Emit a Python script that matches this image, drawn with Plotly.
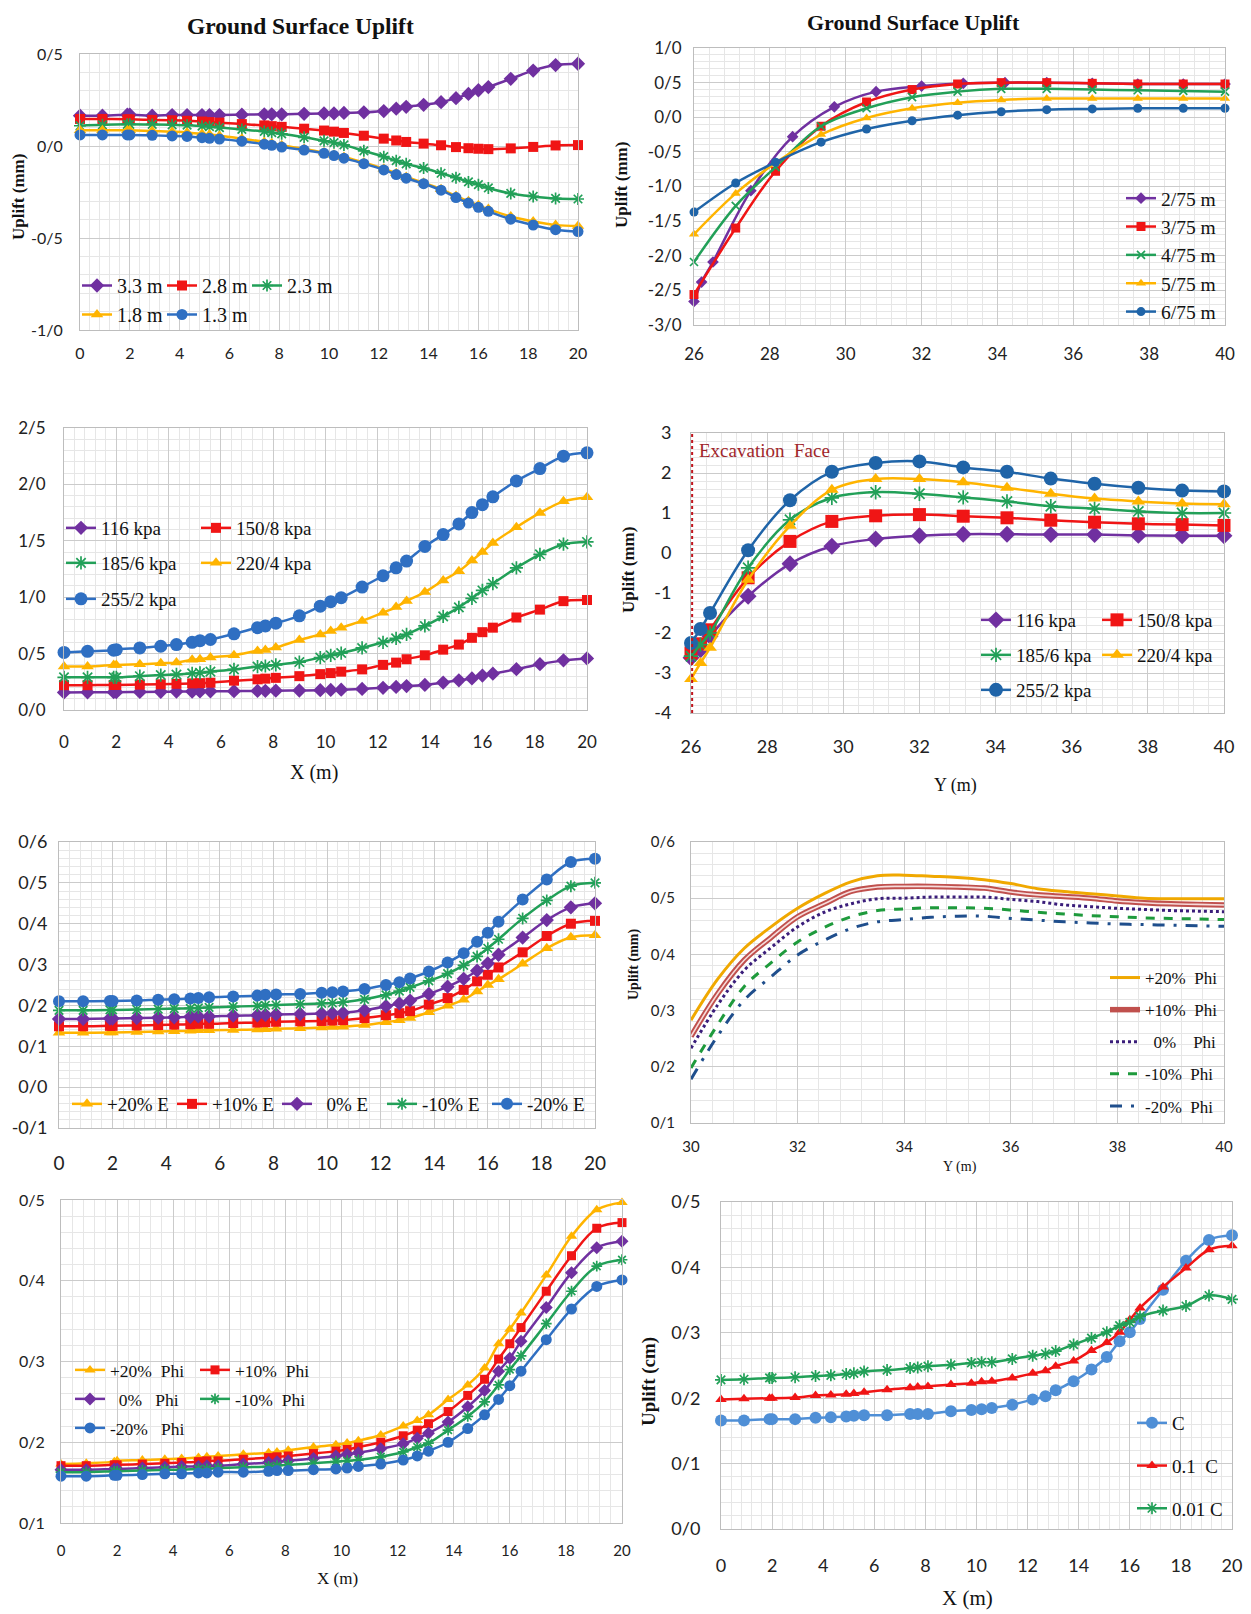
import plotly.graph_objects as go

# The page body keeps its default 8 px margin, so the figure is drawn 8 px in from the
# top-left corner of the 1251 x 1614 window; size it so it ends at the window edge.
PAGE_W, PAGE_H = 1251, 1614
BODY_MARGIN = 8
W, H = PAGE_W - BODY_MARGIN, PAGE_H - BODY_MARGIN
SERIF = "Liberation Serif"
SANS = "Lato"
TICK_COLOR = "#222222"

PURPLE = "#7030a0"
RED = "#f01515"
GREEN = "#22a058"
YELLOW = "#ffb400"
BLUE = "#2f6fc2"

# ------------------------------------------------------------------ data
X_NODES = [0, 0.9, 1.9, 2.0, 2.9, 3.7, 4.3, 4.9, 5.2, 5.6, 6.5, 7.4, 7.7, 8.1, 9.0, 9.8,
           10.2, 10.6, 11.4, 12.2, 12.7, 13.1, 13.8, 14.5, 15.1, 15.6, 16.0, 16.4, 17.3,
           18.2, 19.1, 20.0]
X_TICK_STEP = 2

# Panel 1 : uplift vs X for different depths
P1_NAMES = ["3.3 m", "2.8 m", "2.3 m", "1.8 m", "1.3 m"]
P1_33 = [0.165, 0.165, 0.17, 0.17, 0.165, 0.168, 0.168, 0.168, 0.168, 0.168, 0.17, 0.172, 0.172,
         0.172, 0.175, 0.177, 0.177, 0.18, 0.183, 0.19, 0.203, 0.213, 0.224, 0.238, 0.26, 0.283,
         0.303, 0.32, 0.365, 0.41, 0.44, 0.447]
P1_28 = [0.147, 0.147, 0.145, 0.145, 0.142, 0.14, 0.137, 0.133, 0.13, 0.127, 0.119, 0.112, 0.108,
         0.104, 0.094, 0.084, 0.078, 0.071, 0.056, 0.04, 0.03, 0.022, 0.013, 0.004, -0.006,
         -0.012, -0.015, -0.017, -0.013, -0.005, 0.003, 0.005]
P1_23 = [0.11, 0.115, 0.118, 0.118, 0.117, 0.115, 0.113, 0.108, 0.105, 0.1, 0.09, 0.079, 0.073,
         0.066, 0.047, 0.028, 0.018, 0.006, -0.026, -0.058, -0.08, -0.097, -0.12, -0.148, -0.172,
         -0.195, -0.21, -0.228, -0.258, -0.274, -0.285, -0.288]
P1_18 = [0.085, 0.085, 0.085, 0.085, 0.082, 0.078, 0.074, 0.066, 0.062, 0.056, 0.04, 0.022, 0.015,
         0.004, -0.016, -0.036, -0.048, -0.06, -0.09, -0.124, -0.148, -0.168, -0.2, -0.235, -0.272,
         -0.3, -0.322, -0.343, -0.383, -0.41, -0.43, -0.435]
P1_13 = [0.06, 0.06, 0.06, 0.06, 0.058, 0.055, 0.052, 0.045, 0.042, 0.038, 0.026, 0.01, 0.004,
         -0.006, -0.022, -0.04, -0.052, -0.066, -0.096, -0.13, -0.155, -0.175, -0.205, -0.24,
         -0.28, -0.31, -0.333, -0.355, -0.398, -0.43, -0.455, -0.465]
P1_YTICKS = [-1.0, -0.5, 0.0, 0.5]
P1_YTEXT = ["-1/0", "-0/5", "0/0", "0/5"]

# Panel 2 : uplift vs Y for different depths
P2_NAMES = ["2/75 m", "3/75 m", "4/75 m", "5/75 m", "6/75 m"]
P2_X_A = [26, 26.2, 26.5, 27.5, 28.6, 29.7, 30.8, 32.0, 33.1, 34.2, 35.3, 36.5, 37.7, 38.9, 40]
P2_275 = [-2.66, -2.38, -2.09, -1.06, -0.28, 0.15, 0.37, 0.45, 0.49, 0.5, 0.5, 0.49, 0.48, 0.48, 0.48]
P2_X = [26, 27.1, 28.15, 29.35, 30.55, 31.75, 32.95, 34.1, 35.3, 36.5, 37.7, 38.9, 40]
P2_375 = [-2.56, -1.6, -0.78, -0.13, 0.22, 0.4, 0.48, 0.5, 0.5, 0.49, 0.48, 0.48, 0.48]
P2_475 = [-2.09, -1.28, -0.72, -0.13, 0.13, 0.29, 0.37, 0.41, 0.41, 0.4, 0.39, 0.38, 0.37]
P2_575 = [-1.69, -1.1, -0.66, -0.25, -0.01, 0.13, 0.21, 0.25, 0.27, 0.27, 0.27, 0.27, 0.27]
P2_675 = [-1.37, -0.95, -0.65, -0.36, -0.17, -0.05, 0.03, 0.08, 0.11, 0.12, 0.13, 0.13, 0.13]
P2_YTICKS = [-3.0, -2.5, -2.0, -1.5, -1.0, -0.5, 0.0, 0.5, 1.0]
P2_YTEXT = ["-3/0", "-2/5", "-2/0", "-1/5", "-1/0", "-0/5", "0/0", "0/5", "1/0"]

# Panel 3 : uplift vs X for different pressures
P3_NAMES = ["116 kpa", "150/8 kpa", "185/6 kpa", "220/4 kpa", "255/2 kpa"]
P3_116 = [0.156, 0.157, 0.158, 0.158, 0.16, 0.162, 0.163, 0.164, 0.165, 0.166, 0.167, 0.169, 0.17,
          0.171, 0.173, 0.176, 0.178, 0.18, 0.187, 0.197, 0.205, 0.212, 0.222, 0.243, 0.263, 0.28,
          0.305, 0.322, 0.362, 0.406, 0.44, 0.457]
P3_150 = [0.22, 0.22, 0.222, 0.222, 0.225, 0.228, 0.232, 0.236, 0.238, 0.242, 0.26, 0.272, 0.278,
          0.285, 0.3, 0.318, 0.327, 0.34, 0.36, 0.4, 0.42, 0.45, 0.485, 0.535, 0.58, 0.64, 0.69,
          0.73, 0.82, 0.89, 0.965, 0.975]
P3_185 = [0.29, 0.29, 0.29, 0.29, 0.3, 0.31, 0.315, 0.325, 0.33, 0.34, 0.36, 0.385, 0.39, 0.4,
          0.425, 0.465, 0.485, 0.505, 0.55, 0.6, 0.635, 0.67, 0.745, 0.83, 0.91, 0.99, 1.06, 1.12,
          1.26, 1.38, 1.47, 1.49]
P3_220 = [0.386, 0.386, 0.4, 0.4, 0.406, 0.415, 0.42, 0.445, 0.45, 0.465, 0.486, 0.524, 0.533,
          0.554, 0.62, 0.67, 0.7, 0.73, 0.79, 0.863, 0.913, 0.966, 1.045, 1.149, 1.23, 1.325, 1.4,
          1.48, 1.62, 1.747, 1.85, 1.885]
P3_255 = [0.51, 0.52, 0.53, 0.535, 0.55, 0.565, 0.58, 0.6, 0.615, 0.625, 0.675, 0.73, 0.745, 0.77,
          0.835, 0.92, 0.96, 0.995, 1.09, 1.19, 1.26, 1.32, 1.45, 1.555, 1.65, 1.75, 1.82, 1.89,
          2.03, 2.14, 2.25, 2.28]
P3_YTICKS = [0.0, 0.5, 1.0, 1.5, 2.0, 2.5]
P3_YTEXT = ["0/0", "0/5", "1/0", "1/5", "2/0", "2/5"]

# Panel 4 : uplift vs Y for different pressures
P4_X = [26, 26.25, 26.5, 27.5, 28.6, 29.7, 30.85, 32.0, 33.15, 34.3, 35.45, 36.6, 37.75, 38.9, 40]
P4_116 = [-2.62, -2.42, -2.08, -1.08, -0.27, 0.17, 0.35, 0.43, 0.47, 0.47, 0.46, 0.46, 0.44, 0.43, 0.43]
P4_150 = [-2.5, -2.27, -1.92, -0.62, 0.29, 0.79, 0.93, 0.96, 0.92, 0.88, 0.82, 0.77, 0.73, 0.71, 0.69]
P4_185 = [-2.58, -2.29, -2.0, -0.37, 0.83, 1.38, 1.52, 1.48, 1.39, 1.29, 1.17, 1.11, 1.04, 1.0, 1.0]
P4_220 = [-3.15, -2.75, -2.37, -0.67, 0.68, 1.58, 1.85, 1.85, 1.77, 1.63, 1.48, 1.36, 1.29, 1.24, 1.22]
P4_255 = [-2.25, -1.9, -1.5, 0.07, 1.32, 2.03, 2.25, 2.29, 2.14, 2.03, 1.86, 1.73, 1.63, 1.56, 1.54]
P4_YTICKS = [-4, -3, -2, -1, 0, 1, 2, 3]
P4_YTEXT = ["-4", "-3", "-2", "-1", "0", "1", "2", "3"]
EXCAVATION_FACE = 26.03

# Panel 5 : uplift vs X for different E
P5_NAMES = ["+20% E", "+10% E", "\u00a0\u00a00% E", "-10% E", "-20% E"]
P5_P20 = [0.133, 0.133, 0.134, 0.134, 0.135, 0.136, 0.137, 0.138, 0.139, 0.139, 0.14, 0.141, 0.142,
          0.143, 0.144, 0.146, 0.147, 0.148, 0.152, 0.159, 0.164, 0.169, 0.183, 0.199, 0.214, 0.234,
          0.25, 0.264, 0.302, 0.34, 0.367, 0.372]
P5_P10 = [0.149, 0.149, 0.15, 0.15, 0.151, 0.152, 0.153, 0.154, 0.155, 0.155, 0.157, 0.158, 0.159,
          0.16, 0.161, 0.162, 0.163, 0.164, 0.169, 0.176, 0.181, 0.186, 0.202, 0.218, 0.238, 0.259,
          0.275, 0.293, 0.33, 0.37, 0.4, 0.407]
P5_0 = [0.167, 0.167, 0.168, 0.168, 0.169, 0.17, 0.171, 0.172, 0.173, 0.173, 0.175, 0.176, 0.177,
        0.178, 0.179, 0.18, 0.181, 0.182, 0.188, 0.198, 0.205, 0.212, 0.228, 0.246, 0.265, 0.285,
        0.303, 0.324, 0.366, 0.409, 0.44, 0.45]
P5_M10 = [0.188, 0.188, 0.189, 0.189, 0.19, 0.191, 0.192, 0.193, 0.194, 0.195, 0.197, 0.199, 0.2,
          0.201, 0.203, 0.205, 0.206, 0.208, 0.215, 0.226, 0.235, 0.244, 0.26, 0.278, 0.298, 0.32,
          0.34, 0.362, 0.413, 0.457, 0.492, 0.5]
P5_M20 = [0.21, 0.21, 0.211, 0.211, 0.212, 0.214, 0.215, 0.217, 0.218, 0.22, 0.222, 0.224, 0.226,
          0.227, 0.228, 0.231, 0.232, 0.234, 0.24, 0.25, 0.257, 0.266, 0.283, 0.305, 0.328, 0.356,
          0.378, 0.405, 0.459, 0.508, 0.551, 0.559]
P5_YTICKS = [-0.1, 0.0, 0.1, 0.2, 0.3, 0.4, 0.5, 0.6]
P5_YTEXT = ["-0/1", "0/0", "0/1", "0/2", "0/3", "0/4", "0/5", "0/6"]

# Panel 6 : uplift vs Y for different Phi
P6_NAMES = ["+20%\u00a0\u00a0Phi", "+10%\u00a0\u00a0Phi", "\u00a0\u00a00%\u00a0\u00a0\u00a0\u00a0Phi",
            "-10%\u00a0\u00a0Phi", "-20%\u00a0\u00a0Phi"]
P6_X = [30, 30.5, 31, 31.5, 32, 32.5, 33, 33.5, 34, 34.5, 35, 35.5, 36, 36.5, 37, 37.5, 38, 38.5,
        39, 39.5, 40]
P6_P20 = [0.283, 0.356, 0.411, 0.449, 0.482, 0.508, 0.529, 0.54, 0.541, 0.539, 0.537, 0.533, 0.526,
          0.517, 0.512, 0.508, 0.504, 0.5, 0.499, 0.499, 0.499]
P6_P10 = [0.254, 0.33, 0.39, 0.43, 0.467, 0.49, 0.512, 0.52, 0.521, 0.521, 0.52, 0.518, 0.511,
          0.506, 0.503, 0.5, 0.495, 0.492, 0.49, 0.489, 0.488]
P6_0 = [0.233, 0.31, 0.372, 0.412, 0.449, 0.475, 0.49, 0.499, 0.5, 0.502, 0.502, 0.502, 0.498,
        0.494, 0.488, 0.485, 0.482, 0.48, 0.478, 0.477, 0.476]
P6_M10 = [0.198, 0.275, 0.343, 0.385, 0.422, 0.448, 0.467, 0.478, 0.481, 0.483, 0.483, 0.482, 0.479,
          0.475, 0.472, 0.469, 0.467, 0.465, 0.464, 0.463, 0.462]
P6_M20 = [0.178, 0.255, 0.319, 0.36, 0.399, 0.425, 0.446, 0.458, 0.462, 0.466, 0.468, 0.468, 0.464,
          0.461, 0.458, 0.456, 0.454, 0.453, 0.452, 0.451, 0.45]
P6_YTICKS = [0.1, 0.2, 0.3, 0.4, 0.5, 0.6]
P6_YTEXT = ["0/1", "0/2", "0/3", "0/4", "0/5", "0/6"]

# Panel 7 : uplift vs X for different Phi
P7_NAMES = ["+20%\u00a0\u00a0Phi", "+10%\u00a0\u00a0Phi", "\u00a0\u00a00%\u00a0\u00a0\u00a0Phi",
            "-10%\u00a0\u00a0Phi", "-20%\u00a0\u00a0\u00a0Phi"]
P7_P20 = [0.173, 0.174, 0.176, 0.177, 0.178, 0.179, 0.18, 0.181, 0.182, 0.183, 0.185, 0.187, 0.188,
          0.19, 0.194, 0.197, 0.199, 0.202, 0.209, 0.22, 0.227, 0.234, 0.253, 0.271, 0.292, 0.322,
          0.34, 0.36, 0.407, 0.455, 0.488, 0.497]
P7_P10 = [0.171, 0.171, 0.172, 0.172, 0.173, 0.174, 0.175, 0.176, 0.177, 0.177, 0.179, 0.181, 0.182,
          0.183, 0.186, 0.189, 0.191, 0.194, 0.2, 0.208, 0.215, 0.223, 0.238, 0.258, 0.278, 0.303,
          0.322, 0.342, 0.387, 0.431, 0.465, 0.472]
P7_0 = [0.166, 0.166, 0.167, 0.167, 0.168, 0.169, 0.17, 0.17, 0.171, 0.171, 0.173, 0.175, 0.176,
        0.177, 0.18, 0.183, 0.185, 0.187, 0.192, 0.198, 0.205, 0.211, 0.225, 0.244, 0.264, 0.288,
        0.304, 0.325, 0.367, 0.41, 0.441, 0.449]
P7_M10 = [0.163, 0.163, 0.164, 0.164, 0.165, 0.166, 0.166, 0.167, 0.167, 0.168, 0.169, 0.17, 0.171,
          0.172, 0.174, 0.176, 0.177, 0.178, 0.182, 0.188, 0.194, 0.199, 0.215, 0.232, 0.25, 0.271,
          0.29, 0.307, 0.347, 0.387, 0.418, 0.426]
P7_M20 = [0.158, 0.158, 0.159, 0.159, 0.16, 0.161, 0.161, 0.162, 0.162, 0.163, 0.163, 0.164, 0.165,
          0.165, 0.166, 0.167, 0.168, 0.17, 0.173, 0.178, 0.183, 0.189, 0.2, 0.217, 0.234, 0.253,
          0.27, 0.288, 0.327, 0.365, 0.393, 0.401]
P7_YTICKS = [0.1, 0.2, 0.3, 0.4, 0.5]
P7_YTEXT = ["0/1", "0/2", "0/3", "0/4", "0/5"]

# Panel 8 : uplift vs X for different cohesion
P8_NAMES = ["C", "0.1\u00a0\u00a0C", "0.01 C"]
P8_C = [0.166, 0.166, 0.168, 0.168, 0.168, 0.17, 0.171, 0.172, 0.173, 0.174, 0.174, 0.176, 0.176,
        0.176, 0.18, 0.182, 0.183, 0.185, 0.19, 0.198, 0.203, 0.212, 0.226, 0.244, 0.263, 0.287,
        0.301, 0.321, 0.366, 0.41, 0.442, 0.449]
P8_01C = [0.198, 0.199, 0.2, 0.2, 0.201, 0.204, 0.205, 0.206, 0.207, 0.209, 0.213, 0.216, 0.217,
          0.218, 0.221, 0.223, 0.225, 0.226, 0.231, 0.238, 0.242, 0.249, 0.257, 0.273, 0.285, 0.301,
          0.32, 0.338, 0.37, 0.399, 0.427, 0.433]
P8_001C = [0.228, 0.229, 0.231, 0.231, 0.232, 0.234, 0.235, 0.237, 0.238, 0.241, 0.243, 0.246, 0.247,
           0.249, 0.251, 0.254, 0.255, 0.255, 0.26, 0.265, 0.268, 0.272, 0.282, 0.292, 0.301, 0.311,
           0.316, 0.325, 0.334, 0.341, 0.357, 0.351]
P8_YTICKS = [0.0, 0.1, 0.2, 0.3, 0.4, 0.5]
P8_YTEXT = ["0/0", "0/1", "0/2", "0/3", "0/4", "0/5"]

# ------------------------------------------------------------------ helpers
fig = go.Figure()


def fx(px):
    """window pixel x -> paper fraction"""
    return (px - BODY_MARGIN) / W


def fy(py):
    """window pixel y -> paper fraction"""
    return 1 - (py - BODY_MARGIN) / H


def style_axes(n, box, xrange, xdtick, xminor, yrange, yvals, ytext, yminor,
               fsize, xstand, ystand, xfsize=None):
    s = "" if n == 1 else str(n)
    left, top, right, bottom = box
    common = dict(showline=True, linecolor="#bdbdbd", linewidth=1, mirror=True,
                  showgrid=True, gridcolor="#cbcbcb", gridwidth=1, zeroline=False,
                  ticks="", fixedrange=True, automargin=False)
    xa = dict(common, domain=[fx(left), fx(right)], anchor="y" + s, range=xrange,
              tickmode="linear", tick0=xrange[0], dtick=xdtick,
              minor=dict(showgrid=True, gridcolor="#e6e6e6", gridwidth=1,
                         tick0=xrange[0], dtick=xminor),
              tickfont=dict(family=SANS, size=xfsize or fsize, color=TICK_COLOR),
              ticklabelstandoff=xstand)
    ya = dict(common, domain=[fy(bottom), fy(top)], anchor="x" + s, range=yrange,
              tickmode="array", tickvals=yvals, ticktext=ytext,
              minor=dict(showgrid=True, gridcolor="#e6e6e6", gridwidth=1,
                         tick0=yrange[0], dtick=yminor),
              tickfont=dict(family=SANS, size=fsize, color=TICK_COLOR),
              ticklabelstandoff=ystand)
    fig.update_layout({"xaxis" + s: xa, "yaxis" + s: ya})


def series(n, x, y, name, color, symbol, msize, legend, lw=2.5, dash="solid",
           mode="lines+markers", group=None, showlegend=True):
    s = "" if n == 1 else str(n)
    star = symbol is not None and ("asterisk" in symbol or "thin" in symbol)
    marker = dict(symbol=symbol or "circle", size=msize, color=color,
                  line=dict(width=1.7 if star else 0, color=color))
    kw = {}
    if group:
        kw["legendgroup"] = group
    fig.add_trace(go.Scatter(
        x=x, y=y, name=name, mode=mode, marker=marker,
        line=dict(color=color, width=lw, shape="spline", smoothing=1.0, dash=dash),
        xaxis="x" + s, yaxis="y" + s, legend=legend, cliponaxis=False,
        showlegend=showlegend, hoverinfo="skip", **kw))


def legend_box(left, top, size, orientation="h", entrywidth=None, gap=0, order="normal"):
    d = dict(x=fx(left), y=fy(top), xanchor="left", yanchor="top",
             orientation=orientation, bgcolor="rgba(0,0,0,0)", borderwidth=0,
             itemwidth=30, tracegroupgap=gap, traceorder=order,
             font=dict(family=SERIF, size=size, color="#111111"))
    if entrywidth is not None:
        d.update(entrywidth=entrywidth, entrywidthmode="pixels")
    return d


def label(text, x, y, size, bold=False, angle=0, color="#111111", xanchor="center"):
    fig.add_annotation(text=("<b>%s</b>" % text) if bold else text,
                       x=fx(x), y=fy(y), xref="paper", yref="paper",
                       showarrow=False, textangle=angle, xanchor=xanchor, yanchor="middle",
                       font=dict(family=SERIF, size=size, color=color))


# ------------------------------------------------------------------ panel 1
style_axes(1, (80, 54, 578, 330), [0, 20], X_TICK_STEP, 0.4, [-1, 0.5], P1_YTICKS, P1_YTEXT,
           0.1, 16, 9, 13)
series(1, X_NODES, P1_33, P1_NAMES[0], PURPLE, "diamond", 11, "legend")
series(1, X_NODES, P1_28, P1_NAMES[1], RED, "square", 10, "legend")
series(1, X_NODES, P1_23, P1_NAMES[2], GREEN, "asterisk-open", 10, "legend")
series(1, X_NODES, P1_18, P1_NAMES[3], YELLOW, "triangle-up", 11, "legend2")
series(1, X_NODES, P1_13, P1_NAMES[4], BLUE, "circle", 11, "legend2")
label("Ground Surface Uplift", 300, 26, 23.5, bold=True)
label("Uplift (mm)", 18, 197, 17, bold=True, angle=-90)

# ------------------------------------------------------------------ panel 2
style_axes(2, (694, 48, 1225, 325), [26, 40], 2, 0.4, [-3, 1], P2_YTICKS, P2_YTEXT,
           0.1, 17, 14, 8)
series(2, P2_X_A, P2_275, P2_NAMES[0], PURPLE, "diamond", 9, "legend3")
series(2, P2_X, P2_375, P2_NAMES[1], RED, "square", 9, "legend3")
series(2, P2_X, P2_475, P2_NAMES[2], GREEN, "x-thin-open", 8, "legend3")
series(2, P2_X, P2_575, P2_NAMES[3], YELLOW, "triangle-up", 9, "legend3")
series(2, P2_X, P2_675, P2_NAMES[4], "#1f64a8", "circle", 9, "legend3")
label("Ground Surface Uplift", 913, 22, 22, bold=True)
label("Uplift (mm)", 621, 185, 17, bold=True, angle=-90)

# ------------------------------------------------------------------ panel 3
style_axes(3, (64, 428, 587, 710), [0, 20], X_TICK_STEP, 0.4, [0, 2.5], P3_YTICKS, P3_YTEXT,
           0.1, 17, 17, 14)
series(3, X_NODES, P3_116, P3_NAMES[0], PURPLE, "diamond", 11, "legend4")
series(3, X_NODES, P3_150, P3_NAMES[1], RED, "square", 10, "legend4")
series(3, X_NODES, P3_185, P3_NAMES[2], GREEN, "asterisk-open", 11, "legend5")
series(3, X_NODES, P3_220, P3_NAMES[3], YELLOW, "triangle-up", 11, "legend5")
series(3, X_NODES, P3_255, P3_NAMES[4], BLUE, "circle", 13, "legend6")
label("X (m)", 314, 772, 20)

# ------------------------------------------------------------------ panel 4
style_axes(4, (691, 433, 1224, 713), [26, 40], 2, 0.4, [-4, 3], P4_YTICKS, P4_YTEXT,
           0.2, 18, 17, 15)
series(4, P4_X, P4_116, P3_NAMES[0], PURPLE, "diamond", 13, "legend7")
series(4, P4_X, P4_150, P3_NAMES[1], RED, "square", 13, "legend7")
series(4, P4_X, P4_185, P3_NAMES[2], GREEN, "asterisk-open", 12, "legend8")
series(4, P4_X, P4_220, P3_NAMES[3], YELLOW, "triangle-up", 12, "legend8")
series(4, P4_X, P4_255, P3_NAMES[4], "#1f64a8", "circle", 14, "legend9")
fig.add_shape(type="line", xref="x4", yref="y4", x0=EXCAVATION_FACE, x1=EXCAVATION_FACE,
              y0=-4, y1=3, line=dict(color="#c0141c", width=2, dash="dot"), layer="above")
label("Excavation\u00a0 Face", 697, 450, 19, color="#a0262b", xanchor="left")
label("Uplift (mm)", 628, 570, 17, bold=True, angle=-90)
label("Y (m)", 955, 786, 18)

# ------------------------------------------------------------------ panel 5
style_axes(5, (59, 842, 595, 1128), [0, 20], X_TICK_STEP, 0.4, [-0.1, 0.6], P5_YTICKS, P5_YTEXT,
           0.02, 18, 18, 7, xfsize=19)
series(5, X_NODES, P5_P20, P5_NAMES[0], YELLOW, "triangle-up", 11, "legend10")
series(5, X_NODES, P5_P10, P5_NAMES[1], RED, "square", 10, "legend10")
series(5, X_NODES, P5_0, P5_NAMES[2], PURPLE, "diamond", 11, "legend10")
series(5, X_NODES, P5_M10, P5_NAMES[3], GREEN, "asterisk-open", 10, "legend10")
series(5, X_NODES, P5_M20, P5_NAMES[4], BLUE, "circle", 12, "legend10")

# ------------------------------------------------------------------ panel 6
style_axes(6, (691, 842, 1224, 1123), [30, 40], 2, 0.4, [0.1, 0.6], P6_YTICKS, P6_YTEXT,
           0.02, 15, 10, 12)
series(6, P6_X, P6_P20, P6_NAMES[0], "#f0a800", None, 6, "legend11", lw=3, mode="lines", group="a")
series(6, P6_X, P6_P10, P6_NAMES[1], "#c0504d", None, 6, "legend11", lw=5.5, mode="lines", group="b")
series(6, P6_X, P6_P10, P6_NAMES[1], "#f6dcdb", None, 6, "legend11", lw=1.6, mode="lines",
       group="b", showlegend=False)
series(6, P6_X, P6_0, P6_NAMES[2], "#3a1d7a", None, 6, "legend11", lw=3, mode="lines",
       dash="dot", group="c")
series(6, P6_X, P6_M10, P6_NAMES[3], "#1e9a3c", None, 6, "legend11", lw=3, mode="lines",
       dash="dash", group="d")
series(6, P6_X, P6_M20, P6_NAMES[4], "#1f4e8c", None, 6, "legend11", lw=3, mode="lines",
       dash="12px,9px,3px,9px", group="e")
label("Uplift (mm)", 634, 965, 14, bold=True, angle=-90)
label("Y (m)", 960, 1167, 14)

# ------------------------------------------------------------------ panel 7
style_axes(7, (61, 1200, 622, 1523), [0, 20], X_TICK_STEP, 0.4, [0.1, 0.5], P7_YTICKS, P7_YTEXT,
           0.02, 16, 14, 12, xfsize=15)
series(7, X_NODES, P7_P20, P7_NAMES[0], YELLOW, "triangle-up", 10, "legend12")
series(7, X_NODES, P7_P10, P7_NAMES[1], RED, "square", 9, "legend12")
series(7, X_NODES, P7_0, P7_NAMES[2], PURPLE, "diamond", 10, "legend13")
series(7, X_NODES, P7_M10, P7_NAMES[3], GREEN, "asterisk-open", 9, "legend13")
series(7, X_NODES, P7_M20, P7_NAMES[4], BLUE, "circle", 11, "legend14")
label("X (m)", 337, 1578, 17)

# ------------------------------------------------------------------ panel 8
style_axes(8, (721, 1202, 1232, 1529), [0, 20], X_TICK_STEP, 0.4, [0, 0.5], P8_YTICKS, P8_YTEXT,
           0.02, 18, 20, 16)
series(8, X_NODES, P8_C, P8_NAMES[0], "#4f8fd6", "circle", 12, "legend15", group="a")
series(8, X_NODES, P8_01C, P8_NAMES[1], RED, "triangle-up", 10, "legend15", group="b")
series(8, X_NODES, P8_001C, P8_NAMES[2], GREEN, "asterisk-open", 10, "legend15", group="c")
label("Uplift (cm)", 649, 1382, 19, bold=True, angle=-90)
label("X (m)", 967, 1598, 21)

# ------------------------------------------------------------------ legends
fig.update_layout(
    legend=legend_box(77, 266, 20, entrywidth=40),
    legend2=legend_box(77, 295, 20, entrywidth=40),
    legend3=legend_box(1121, 179, 19.5, orientation="v"),
    legend4=legend_box(61, 509, 19, entrywidth=90),
    legend5=legend_box(61, 544, 19, entrywidth=90),
    legend6=legend_box(61, 580, 19, entrywidth=90),
    legend7=legend_box(976, 601, 19, entrywidth=76),
    legend8=legend_box(976, 636, 19, entrywidth=76),
    legend9=legend_box(976, 671, 19, entrywidth=76),
    legend10=legend_box(67, 1085, 19, entrywidth=60),
    legend11=legend_box(1105, 960, 17, orientation="v", gap=7, order="grouped"),
    legend12=legend_box(70, 1352, 17.5, entrywidth=80),
    legend13=legend_box(70, 1381, 17.5, entrywidth=80),
    legend14=legend_box(70, 1410, 17.5, entrywidth=80),
    legend15=legend_box(1132, 1404, 19, orientation="v", gap=15, order="grouped"),
)

fig.update_layout(
    width=W, height=H, margin=dict(l=0, r=0, t=0, b=0, pad=0, autoexpand=False),
    paper_bgcolor="white", plot_bgcolor="white", showlegend=True,
    font=dict(family=SERIF, color="#111111"),
)

fig.write_html("out.html")
